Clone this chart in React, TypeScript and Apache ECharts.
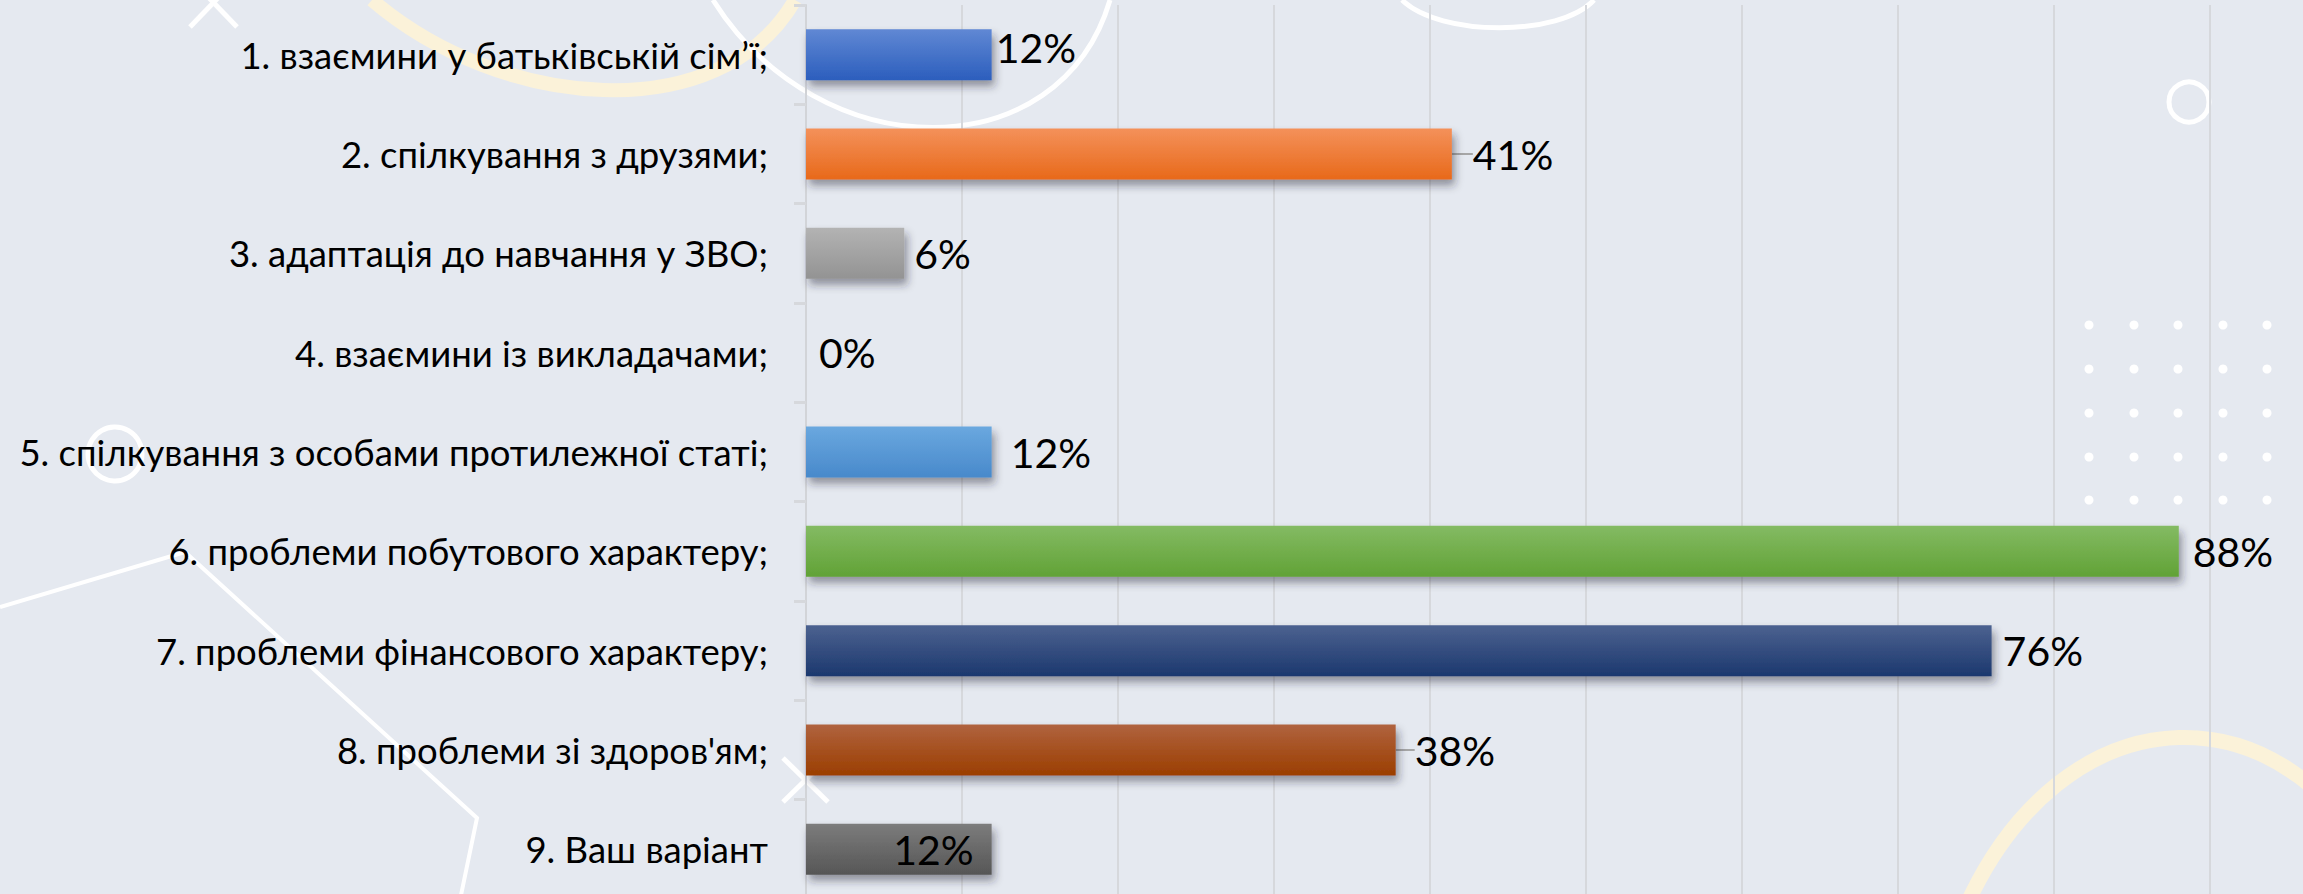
import React, { useEffect, useRef } from "react";
import * as echarts from "echarts";

const categories = [
  "1. взаємини у батьківській сім’ї;",
  "2. спілкування з друзями;",
  "3. адаптація до навчання у ЗВО;",
  "4. взаємини із викладачами;",
  "5. спілкування з особами протилежної статі;",
  "6. проблеми побутового характеру;",
  "7. проблеми фінансового характеру;",
  "8. проблеми зі здоров'ям;",
  "9. Ваш варіант",
];
const values = [11.9, 41.4, 6.3, 0, 11.9, 88, 76, 37.8, 11.9];
const barTopColors = ["#6088d4", "#f4915a", "#b3b3b3", "#ffcc44", "#6aa8df", "#84bb63", "#4c6290", "#b0633f", "#7c7c7c"];
const barBottomColors = ["#2c5ebd", "#e8691a", "#939393", "#f0b400", "#4889cb", "#61a236", "#1c386e", "#9b3e00", "#565656"];
const labelDistance = [4, 4, 10, 13, 19, 14, 11, 4, 18];
const labelShift = [0, 17, 0, 0, 0, 0, 0, 15, 0];
const labelRaise = [-7, 0, 0, 0, 0, 0, 0, 0, 0];
const labelInside = [false, false, false, false, false, false, false, false, true];

const FONT = "Lato, 'Open Sans', sans-serif";

export default function App() {
  const ref = useRef<HTMLDivElement>(null);
  useEffect(() => {
    document.body.style.margin = "0";
    const chart = echarts.init(ref.current!, null, { renderer: "svg" });
    const white = "#ffffff";
    const cream = "#fbf2d9";
    const dotX = [2089, 2134, 2178, 2223, 2267];
    const dotY = [325, 369, 413, 457, 500];
    const dots: any[] = [];
    dotY.forEach((y) =>
      dotX.forEach((x) =>
        dots.push({ type: "circle", z: -10, silent: true, shape: { cx: x, cy: y, r: 4.5 }, style: { fill: white } })
      )
    );
    const deco: any[] = [
      {
        type: "bezierCurve", z: -10, silent: true,
        shape: { x1: 372, y1: 0, cpx1: 500, cpy1: 110, cpx2: 720, cpy2: 130, x2: 795, y2: 0 },
        style: { stroke: cream, lineWidth: 14, fill: null },
      },
      {
        type: "bezierCurve", z: -10, silent: true,
        shape: { x1: 713, y1: 0, cpx1: 820, cpy1: 170, cpx2: 1060, cpy2: 170, x2: 1110, y2: 0 },
        style: { stroke: white, lineWidth: 5, fill: null },
      },
      {
        type: "bezierCurve", z: -10, silent: true,
        shape: { x1: 1402, y1: 0, cpx1: 1440, cpy1: 37, cpx2: 1560, cpy2: 37, x2: 1594, y2: 0 },
        style: { stroke: white, lineWidth: 5, fill: null },
      },
      {
        type: "bezierCurve", z: -10, silent: true,
        shape: { x1: 1960, y1: 920, cpx1: 2060, cpy1: 680, cpx2: 2300, cpy2: 680, x2: 2390, y2: 900 },
        style: { stroke: cream, lineWidth: 15, fill: null },
      },
      {
        type: "polyline", z: -10, silent: true,
        shape: { points: [[0, 607], [185, 552], [477, 818], [460, 900]] },
        style: { stroke: white, lineWidth: 4, fill: null },
      },
      { type: "line", z: -10, silent: true, shape: { x1: 190, y1: 27, x2: 240, y2: -25 }, style: { stroke: white, lineWidth: 5 } },
      { type: "line", z: -10, silent: true, shape: { x1: 237, y1: 27, x2: 187, y2: -25 }, style: { stroke: white, lineWidth: 5 } },
      { type: "line", z: -10, silent: true, shape: { x1: 783, y1: 758, x2: 828, y2: 802 }, style: { stroke: white, lineWidth: 5 } },
      { type: "line", z: -10, silent: true, shape: { x1: 783, y1: 802, x2: 828, y2: 758 }, style: { stroke: white, lineWidth: 5 } },
      { type: "circle", z: -10, silent: true, shape: { cx: 115, cy: 454, r: 27 }, style: { stroke: white, lineWidth: 5, fill: null } },
      { type: "circle", z: -10, silent: true, shape: { cx: 2189, cy: 102, r: 20 }, style: { stroke: white, lineWidth: 5, fill: null } },
      ...dots,
    ];

    chart.setOption({
      animation: false,
      backgroundColor: "#e5e9f0",
      graphic: deco,
      grid: { left: 806, top: 5, width: 1560, height: 894, outerBoundsMode: "none", containLabel: false },
      xAxis: {
        type: "value",
        min: 0,
        max: 100,
        interval: 10,
        axisLabel: { show: false },
        axisLine: { show: false },
        axisTick: { show: false },
        splitLine: { show: true, lineStyle: { color: "#d6d8dc", width: 2 } },
      },
      yAxis: {
        type: "category",
        inverse: true,
        data: categories,
        axisLine: { show: true, lineStyle: { color: "#d2d4d8", width: 2 } },
        axisTick: { show: true, length: 12, lineStyle: { color: "#d6d8dc", width: 3 } },
        axisLabel: { color: "#000", fontFamily: FONT, fontSize: 36.5, margin: 38 },
      },
      series: [
        {
          type: "bar",
          barWidth: 51,
          z: 3,
          labelLine: { show: false },
          labelLayout: (p: any) => ({ dx: labelShift[p.dataIndex], dy: labelRaise[p.dataIndex] }),
          data: values.map((v, i) => ({
            value: v,
            itemStyle: {
              color: new echarts.graphic.LinearGradient(0, 0, 0, 1, [
                { offset: 0, color: barTopColors[i] },
                { offset: 1, color: barBottomColors[i] },
              ]),
              shadowColor: "rgba(40,40,50,0.45)",
              shadowBlur: 8,
              shadowOffsetX: 3,
              shadowOffsetY: 6,
            },
            label: {
              show: true,
              position: labelInside[i] ? "insideRight" : "right",
              distance: labelDistance[i],
              formatter: (p: any) => Math.round(p.value) + "%",
              color: "#000",
              fontFamily: FONT,
              fontSize: 41,
            },
            labelLine: labelShift[i] ? { show: true, lineStyle: { color: "#a6a6a6", width: 2 } } : { show: false },
          })),
        },
      ],
    });
    return () => chart.dispose();
  }, []);
  return <div ref={ref} style={{ width: 2303, height: 894 }} />;
}
